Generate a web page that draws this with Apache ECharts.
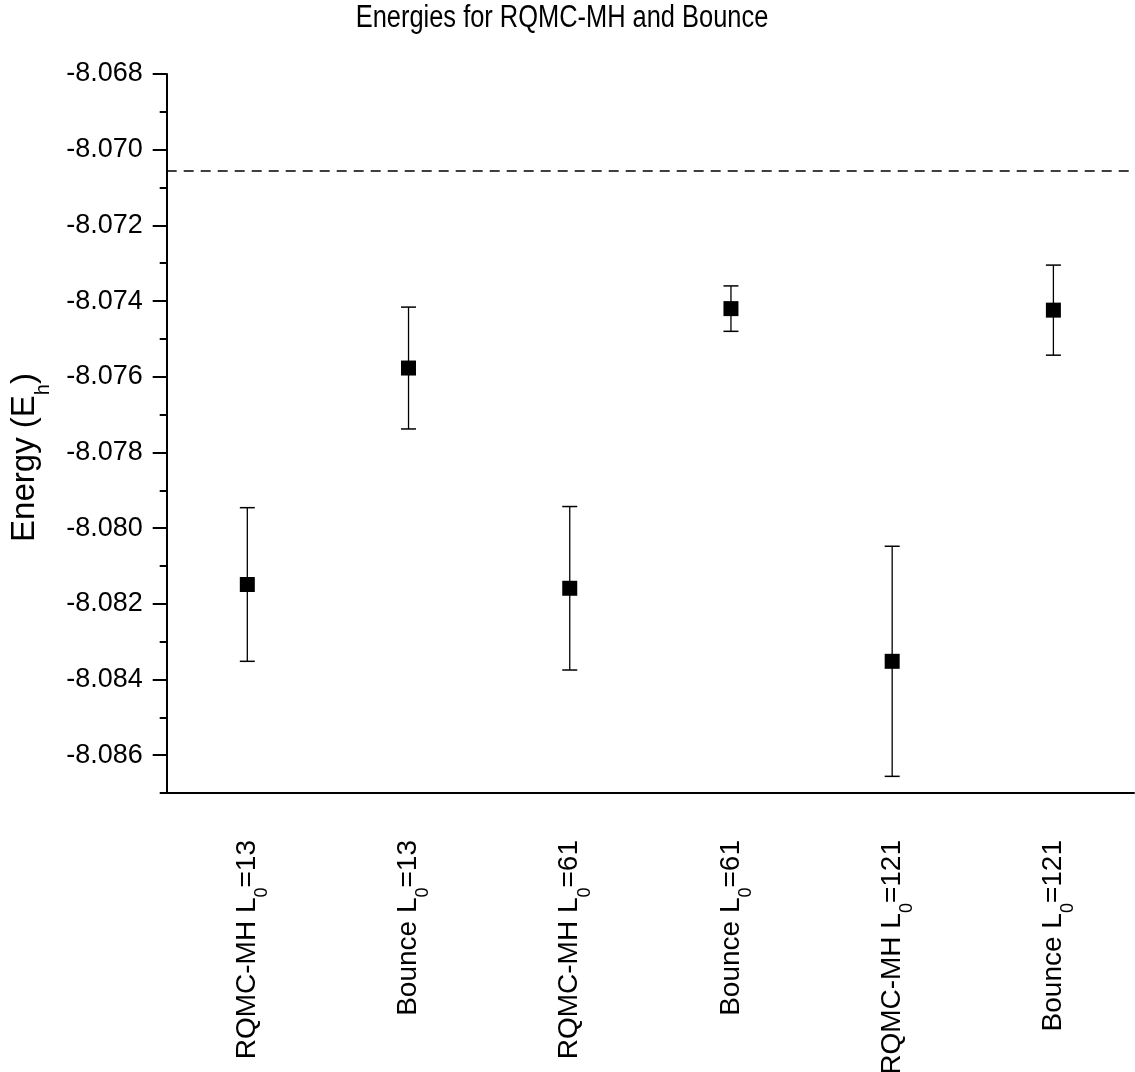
<!DOCTYPE html>
<html lang="en">
<head>
    <meta charset="UTF-8">
    <title>Energies for RQMC-MH and Bounce</title>
    <script type="text/javascript" src="https://cdn.jsdelivr.net/npm/echarts@6/dist/echarts.min.js"></script>
    <style>
        html, body { margin: 0; padding: 0; background: #fff; }
        #chart { width: 1135px; height: 1072px; }
    </style>
</head>
<body>
<div id="chart"></div>
<script type="text/javascript">
    // categories: method + L0
    var methods = ['RQMC-MH', 'Bounce', 'RQMC-MH', 'Bounce', 'RQMC-MH', 'Bounce'];
    var l0Sizes = [13, 13, 61, 61, 121, 121];
    var categories = methods.map(function (m, i) { return m + ' L0=' + l0Sizes[i]; });

    // energies and error bar half widths (Eh)
    var energies = [-8.08149, -8.07577, -8.08159, -8.07420, -8.08352, -8.07424];
    var errors = [0.00203, 0.00161, 0.00216, 0.00060, 0.00304, 0.00119];

    // dashed reference energy
    var refEnergy = -8.07056;

    // y axis ticks
    var yMajorTicks = [-8.086, -8.084, -8.082, -8.080, -8.078, -8.076, -8.074, -8.072, -8.070, -8.068];
    var yMinorTicks = [-8.087, -8.085, -8.083, -8.081, -8.079, -8.077, -8.075, -8.073, -8.071, -8.069];

    var font = 'Liberation Sans, Arial, sans-serif';

    var points = energies.map(function (e, i) { return [i, e]; });
    var bars = energies.map(function (e, i) { return [i, e - errors[i], e + errors[i]]; });

    var mychart = echarts.init(document.getElementById('chart'));
    var option = {
        backgroundColor: '#fff',
        animation: false,
        // title drawn as squeezed text to look like a narrow face
        graphic: [{
            type: 'text',
            x: 562,
            y: 3,
            scaleX: 0.82,
            style: {
                text: 'Energies for RQMC-MH and Bounce',
                fontFamily: font,
                fontSize: 31,
                fill: '#000',
                textAlign: 'center',
                textVerticalAlign: 'top'
            }
        }],
        grid: {
            left: 166.7,
            right: 1,
            top: 74,
            bottom: 279,
            containLabel: false,
            outerBoundsMode: 'none'
        },
        xAxis: {
            type: 'category',
            data: categories,
            boundaryGap: true,
            axisLine: { lineStyle: { color: '#000', width: 2 } },
            axisTick: { alignWithLabel: true, length: 14, lineStyle: { color: '#000', width: 2 } },
            splitLine: { show: false },
            axisLabel: {
                rotate: 90,
                margin: 47,
                interval: 0,
                color: '#000',
                formatter: function (v, i) {
                    return '{n|' + methods[i] + ' L}{s|0}{n|=' + l0Sizes[i] + '}';
                },
                rich: {
                    n: { fontFamily: font, fontSize: 28, color: '#000', lineHeight: 30 },
                    s: { fontFamily: font, fontSize: 18, color: '#000', lineHeight: 18, padding: [30, 0, 0, 0] }
                }
            }
        },
        yAxis: [{
            type: 'value',
            min: -8.087,
            max: -8.068,
            name: '{n|Energy (E}{s|h}{n|)}',
            nameLocation: 'middle',
            nameGap: 124,
            nameTextStyle: {
                padding: [0, 48, 0, 0],
                rich: {
                    n: { fontFamily: font, fontSize: 33, color: '#000', lineHeight: 36 },
                    s: { fontFamily: font, fontSize: 20, color: '#000', lineHeight: 20, padding: [38, 0, 0, 0] }
                }
            },
            axisLine: { show: true, lineStyle: { color: '#000', width: 2 } },
            axisTick: { show: true, length: 14, customValues: yMajorTicks, lineStyle: { color: '#000', width: 2 } },
            splitLine: { show: false },
            axisLabel: {
                margin: 24,
                customValues: yMajorTicks,
                fontFamily: font,
                fontSize: 27,
                color: '#000',
                formatter: function (v) { return v.toFixed(3); }
            }
        }, {
            type: 'value',
            position: 'left',
            min: -8.087,
            max: -8.068,
            axisLine: { show: false },
            axisLabel: { show: false },
            splitLine: { show: false },
            axisTick: { show: true, length: 7, customValues: yMinorTicks, lineStyle: { color: '#000', width: 2 } }
        }],
        series: [{
            type: 'custom',
            name: 'error',
            data: bars,
            z: 2,
            renderItem: function (params, api) {
                var lo = api.coord([api.value(0), api.value(1)]);
                var hi = api.coord([api.value(0), api.value(2)]);
                var hw = 7.5;
                return {
                    type: 'group',
                    children: [
                        { type: 'line', shape: { x1: lo[0], y1: lo[1], x2: hi[0], y2: hi[1] }, style: { stroke: '#000', lineWidth: 1.3 } },
                        { type: 'line', shape: { x1: lo[0] - hw, y1: lo[1], x2: lo[0] + hw, y2: lo[1] }, style: { stroke: '#000', lineWidth: 1.5 } },
                        { type: 'line', shape: { x1: hi[0] - hw, y1: hi[1], x2: hi[0] + hw, y2: hi[1] }, style: { stroke: '#000', lineWidth: 1.5 } }
                    ]
                };
            }
        }, {
            type: 'scatter',
            name: 'energy',
            data: points,
            z: 3,
            symbol: 'rect',
            symbolSize: 15,
            itemStyle: { color: '#000', opacity: 1 },
            markLine: {
                silent: true,
                symbol: 'none',
                precision: 6,
                label: { show: false },
                lineStyle: { color: '#000', width: 1.6, type: [10, 7] },
                data: [{ yAxis: refEnergy }]
            }
        }]
    };
    mychart.setOption(option);
</script>
</body>
</html>
